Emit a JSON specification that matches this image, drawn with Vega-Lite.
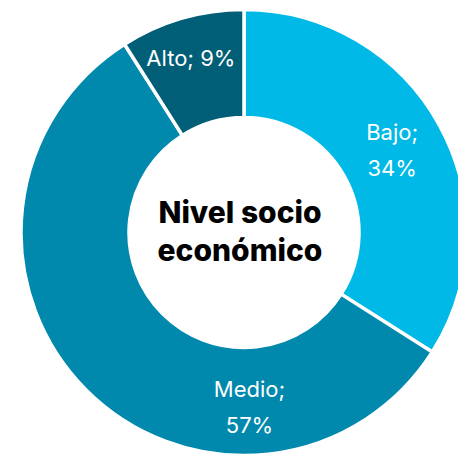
{
  "$schema": "https://vega.github.io/schema/vega-lite/v6.json",
  "width": 428,
  "height": 445,
  "autosize": {"type": "none"},
  "padding": {"left": 30, "top": 10, "right": 0, "bottom": 0},
  "background": "white",
  "config": {"view": {"stroke": null}},
  "data": {
    "values": [
      {"nivel": "Bajo", "pct": 34, "orden": 1, "etiqueta": "Bajo;\n34%"},
      {"nivel": "Medio", "pct": 57, "orden": 2, "etiqueta": "Medio;\n57%"},
      {"nivel": "Alto", "pct": 9, "orden": 3, "etiqueta": "Alto; 9%"}
    ]
  },
  "layer": [
    {
      "mark": {"type": "arc", "outerRadius": 223, "innerRadius": 115, "stroke": "white", "strokeWidth": 3.5},
      "encoding": {
        "theta": {"field": "pct", "type": "quantitative", "stack": true},
        "order": {"field": "orden", "type": "quantitative"},
        "color": {
          "field": "nivel",
          "type": "nominal",
          "scale": {"domain": ["Bajo", "Medio", "Alto"], "range": ["#00B9E7", "#0089AD", "#005E76"]},
          "legend": null
        }
      }
    },
    {
      "mark": {
        "type": "text",
        "radius": 169,
        "font": "Inter",
        "fontSize": 22,
        "fontWeight": 400,
        "lineBreak": "\n",
        "lineHeight": 36,
        "fill": "white",
        "dx": {"expr": "datum.nivel === 'Medio' ? 125 : (datum.nivel === 'Alto' ? -6 : 0)"},
        "dy": {"expr": "datum.nivel === 'Medio' ? 38 : (datum.nivel === 'Alto' ? -11 : -18)"}
      },
      "encoding": {
        "theta": {"field": "pct", "type": "quantitative", "stack": true},
        "order": {"field": "orden", "type": "quantitative"},
        "text": {"field": "etiqueta", "type": "nominal"}
      }
    },
    {
      "data": {"values": [{"centro": "Nivel socio\neconómico"}]},
      "mark": {
        "type": "text",
        "font": "Inter",
        "fontSize": 30,
        "fontWeight": 800,
        "lineBreak": "\n",
        "lineHeight": 38,
        "fill": "black",
        "dx": -4,
        "dy": -19
      },
      "encoding": {"text": {"field": "centro", "type": "nominal"}}
    }
  ]
}
